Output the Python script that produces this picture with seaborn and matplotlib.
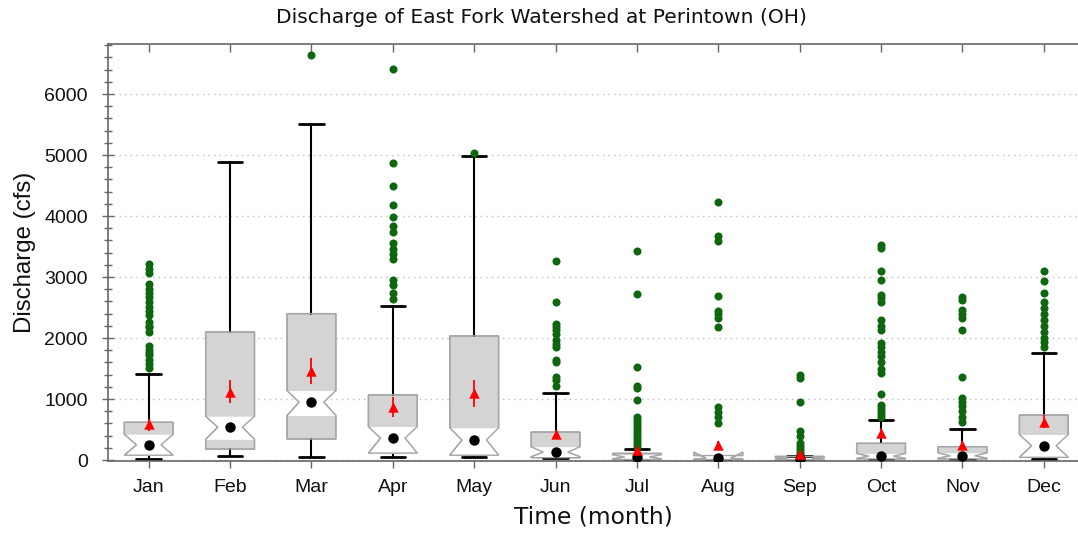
import numpy as np
import pandas as pd
import matplotlib
matplotlib.use("Agg")
import matplotlib.pyplot as plt
import seaborn as sns
from matplotlib.patches import PathPatch
from matplotlib.ticker import MultipleLocator

months = ["Jan", "Feb", "Mar", "Apr", "May", "Jun", "Jul", "Aug", "Sep", "Oct", "Nov", "Dec"]
y_ticks = [0, 1000, 2000, 3000, 4000, 5000, 6000]

# box statistics (cfs)
q1 = [80, 180, 345, 115, 80, 40, 10, 10, 5, 20, 20, 45]
cilo = [80, 340, 730, 115, 80, 55, 20, 15, 10, 25, 30, 45]
median = [250, 540, 950, 360, 330, 130, 50, 35, 25, 65, 70, 235]
cihi = [425, 720, 1140, 550, 530, 220, 90, 130, 45, 110, 120, 420]
q3 = [620, 2100, 2400, 1070, 2035, 460, 110, 75, 60, 275, 220, 738]
whisk_lo = [15, 65, 55, 55, 50, 33, 5, 5, 2, 10, 10, 20]
whisk_hi = [1410, 4885, 5510, 2525, 4985, 1100, 185, 80, 70, 660, 510, 1750]
mean = [590, 1120, 1460, 875, 1100, 420, 170, 240, 100, 440, 250, 628]
mean_lo = [470, 930, 1245, 710, 875, 340, 120, 170, 80, 360, 190, 530]
mean_hi = [680, 1310, 1680, 1040, 1310, 500, 220, 310, 125, 520, 310, 735]

outliers = [
    [3208, 3130, 3061, 2880, 2800, 2733, 2678, 2596, 2514, 2450, 2377, 2267, 2200, 2175, 2104,
     1869, 1803, 1760, 1721, 1639, 1570, 1503],
    [],
    [6640],
    [6410, 4864, 4490, 4180, 3985, 3836, 3743, 3557, 3459, 3377, 3295, 2950, 2869, 2743, 2640],
    [5030],
    [3270, 2585, 2230, 2180, 2130, 2065, 1967, 1900, 1858, 1640, 1607, 1366, 1311, 1213],
    [3430, 2720, 1525, 1213, 1180, 984, 710, 660, 610, 560, 510, 460, 410, 360, 310, 260, 220],
    [4230, 3680, 3590, 2690, 2448, 2394, 2328, 2186, 874, 792, 710, 606],
    [1400, 1340, 950, 480, 390, 280, 230, 180, 130, 100],
    [3530, 3480, 3104, 2950, 2705, 2650, 2595, 2295, 2200, 2130, 1923, 1858, 1776, 1700, 1600,
     1500, 1426, 1082, 902, 850, 800, 750, 710],
    [2680, 2620, 2459, 2390, 2328, 2131, 1366, 1016, 950, 880, 800, 700, 620],
    [3104, 2934, 2737, 2595, 2500, 2400, 2300, 2200, 2100, 2000, 1930, 1858],
]

box_face = "#d4d4d4"
box_edge = "#a6a6a6"
axis_col = "#666666"
text_col = "#111111"

df_out = pd.DataFrame(
    [(m, v) for m, vals in zip(months, outliers) for v in vals],
    columns=["month", "discharge"],
)
df_stat = pd.DataFrame({"month": months, "median": median, "mean": mean})

sns.set_theme(style="white")
plt.rcParams["font.family"] = ["Liberation Sans", "DejaVu Sans"]

fig = plt.figure(figsize=(10.78, 5.39), dpi=100)
ax = fig.add_axes([0.1002, 0.1447, 0.8998, 0.7737])

pos = np.arange(len(months))
stats = [
    dict(label=m, q1=a, cilo=b, med=c, cihi=d, q3=e, whislo=f, whishi=g, fliers=[])
    for m, a, b, c, d, e, f, g in zip(months, q1, cilo, median, cihi, q3, whisk_lo, whisk_hi)
]
bp = ax.bxp(stats, positions=pos, widths=0.6, capwidths=0.3, shownotches=True,
            patch_artist=True, showfliers=False, manage_ticks=False,
            boxprops=dict(facecolor=box_face, edgecolor=box_edge, linewidth=1),
            whiskerprops=dict(color="black", linewidth=1.5),
            capprops=dict(color="black", linewidth=2),
            medianprops=dict(visible=False))

# white notch band with the outline put back on top
for i, box in enumerate(bp["boxes"]):
    p = pos[i]
    ax.fill_betweenx([cilo[i], median[i], cihi[i]],
                     [p - 0.3, p - 0.15, p - 0.3], [p + 0.3, p + 0.15, p + 0.3],
                     color="white", linewidth=0, zorder=2.05)
    ax.add_patch(PathPatch(box.get_path(), facecolor="none", edgecolor=box_edge,
                           linewidth=1, zorder=2.1))

ax.vlines(pos, mean_lo, mean_hi, color="red", linewidth=1.3, zorder=3)

sns.stripplot(data=df_out, x="month", y="discharge", order=months, jitter=False,
              color="#0e660e", size=5.8, linewidth=0, zorder=3, ax=ax)
sns.stripplot(data=df_stat, x="month", y="median", order=months, jitter=False,
              color="black", size=7.5, linewidth=0, zorder=4, ax=ax)
sns.stripplot(data=df_stat, x="month", y="mean", order=months, jitter=False,
              color="red", marker="^", size=7.5, linewidth=0, zorder=4, ax=ax)

ax.set_xlim(-0.5, 11.42)
ax.set_ylim(-15, 6820)
ax.set_xticks(pos)
ax.set_xticklabels(months, fontsize=14, color=text_col)
ax.set_yticks(y_ticks)
ax.set_yticklabels([str(v) for v in y_ticks], fontsize=14, color=text_col)
ax.yaxis.set_minor_locator(MultipleLocator(200))
ax.yaxis.grid(True, which="major", linestyle=(0, (1, 3)), color="#bdbdbd", linewidth=1)
ax.xaxis.grid(False)
ax.set_axisbelow(True)

ax.tick_params(axis="y", which="major", direction="inout", length=9, width=1,
               color=axis_col, pad=10, left=True)
ax.tick_params(axis="y", which="minor", direction="inout", length=6, width=1,
               color=axis_col, left=True)
ax.tick_params(axis="x", direction="out", length=5, width=1, color=axis_col,
               pad=8, bottom=True)

top = ax.secondary_xaxis("top")
top.set_xticks(pos)
top.set_xticklabels([])
top.tick_params(direction="in", length=6, width=1, color=axis_col)
top.spines["top"].set_visible(False)

for side in ["left", "bottom", "top"]:
    ax.spines[side].set_visible(True)
    ax.spines[side].set_color(axis_col)
    ax.spines[side].set_linewidth(1.2)
ax.spines["right"].set_visible(False)

ax.set_xlabel("Time (month)", fontsize=16.8, color=text_col, labelpad=7,
              family=["DejaVu Sans"])
ax.set_ylabel("Discharge (cfs)", fontsize=17.3, color=text_col, labelpad=6)
fig.suptitle("Discharge of East Fork Watershed at Perintown (OH)", x=0.502, y=0.967,
             va="center", fontsize=14.6, color=text_col, family=["DejaVu Sans"])

fig.savefig("out.png", dpi=100)
